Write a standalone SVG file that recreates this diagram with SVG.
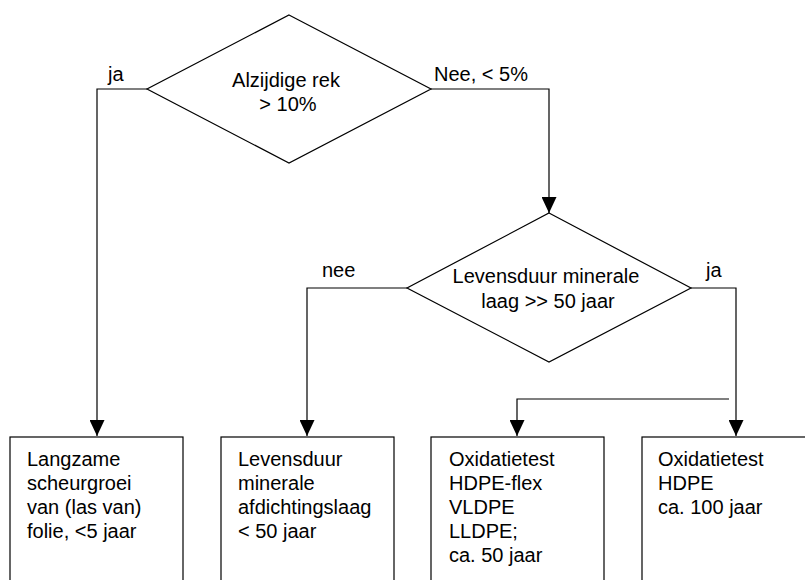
<svg xmlns="http://www.w3.org/2000/svg" width="805" height="580" viewBox="0 0 805 580">
<style>
.shape{fill:#fff;stroke:#000;stroke-width:1.2}
.conn{fill:none;stroke:#000;stroke-width:1.2}
text{font-family:"Liberation Sans",Arial,sans-serif;font-size:20px;fill:#000}
.c{text-anchor:middle}
</style>
<defs>
<marker id="arr" markerWidth="16" markerHeight="15" refX="16" refY="7.5" orient="auto" markerUnits="userSpaceOnUse">
<path d="M0,0 L16,7.5 L0,15 Z" fill="#000"/>
</marker>
</defs>
<rect width="805" height="580" fill="#fff"/>
<g id="connectors">
<polyline class="conn" points="147,89 97,89 97,436" marker-end="url(#arr)"/>
<polyline class="conn" points="431,89 549,89 549,213" marker-end="url(#arr)"/>
<polyline class="conn" points="407,288 307,288 307,436" marker-end="url(#arr)"/>
<polyline class="conn" points="691,288 736,288 736,436" marker-end="url(#arr)"/>
<polyline class="conn" points="729,399 517,399 517,436" marker-end="url(#arr)"/>
<text x="108" y="81">ja</text>
<text x="434" y="81">Nee, &lt; 5%</text>
<text x="322" y="277">nee</text>
<text x="706" y="277">ja</text>
</g>
<g id="d1">
<polygon class="shape" points="289,15 431,89 289,163 147,89"/>
<text class="c" x="286" y="87">Alzijdige rek</text>
<text class="c" x="288" y="111">&gt; 10%</text>
</g>
<g id="d2">
<polygon class="shape" points="549,213 691,288 549,362 407,288"/>
<text class="c" x="546" y="283">Levensduur minerale</text>
<text class="c" x="548" y="308">laag &gt;&gt; 50 jaar</text>
</g>
<g id="b1">
<rect class="shape" x="10" y="437" width="173" height="160"/>
<text x="27" y="466">Langzame</text>
<text x="27" y="490">scheurgroei</text>
<text x="27" y="514">van (las van)</text>
<text x="27" y="538">folie, &lt;5 jaar</text>
</g>
<g id="b2">
<rect class="shape" x="221" y="437" width="173" height="160"/>
<text x="238" y="466">Levensduur</text>
<text x="238" y="490">minerale</text>
<text x="238" y="514">afdichtingslaag</text>
<text x="238" y="538">&lt; 50 jaar</text>
</g>
<g id="b3">
<rect class="shape" x="431" y="437" width="173" height="160"/>
<text x="449" y="466">Oxidatietest</text>
<text x="449" y="490">HDPE-flex</text>
<text x="449" y="514">VLDPE</text>
<text x="449" y="538">LLDPE;</text>
<text x="449" y="562">ca. 50 jaar</text>
</g>
<g id="b4">
<rect class="shape" x="642" y="437" width="173" height="160"/>
<text x="658" y="466">Oxidatietest</text>
<text x="658" y="490">HDPE</text>
<text x="658" y="514">ca. 100 jaar</text>
</g>
</svg>
